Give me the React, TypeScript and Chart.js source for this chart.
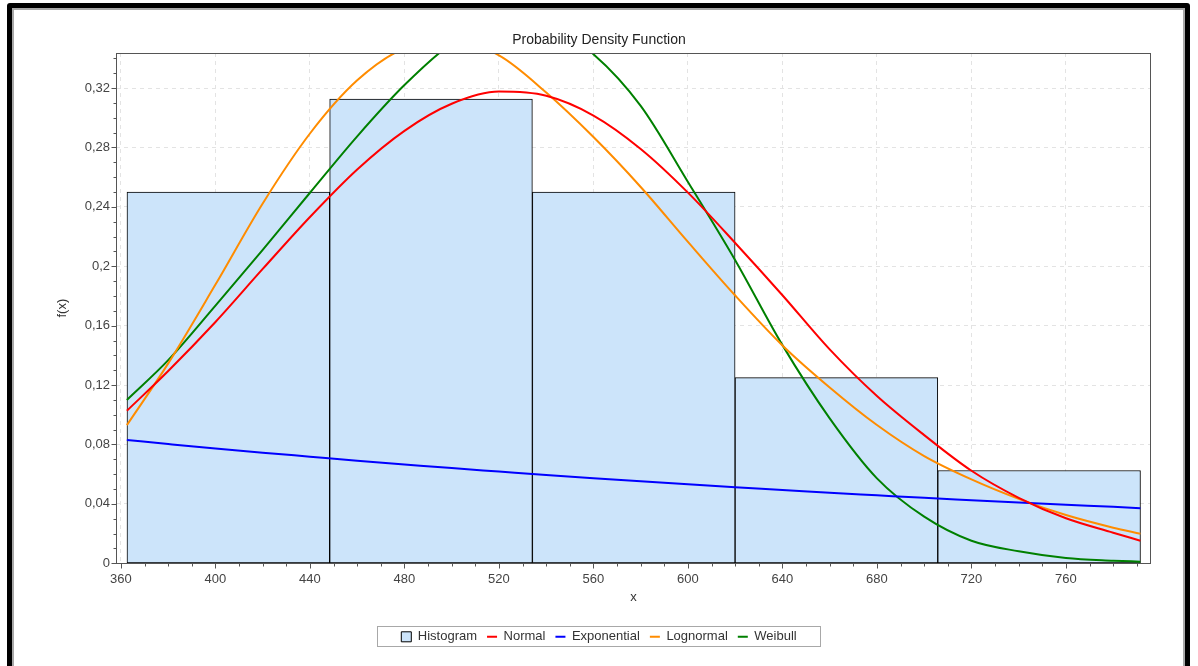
import React, { useEffect, useRef } from 'react';
import { Chart, registerables } from 'chart.js';

Chart.register(...registerables);

// ---- data ----
const xPoints = [362.5, 380, 400, 420, 440, 460, 480, 500, 520, 540, 560, 580, 600, 620, 640, 660, 680, 700, 720, 740, 760, 780, 791.5];
const normalPdf = [0.1027, 0.1295, 0.1625, 0.1982, 0.2332, 0.2652, 0.2912, 0.3094, 0.3176, 0.3148, 0.3015, 0.279, 0.2496, 0.2157, 0.1805, 0.144, 0.1126, 0.0863, 0.0623, 0.0441, 0.0303, 0.0206, 0.0152];
const exponentialPdf = [0.083, 0.0803, 0.0773, 0.0745, 0.0718, 0.0691, 0.0666, 0.0641, 0.0618, 0.0595, 0.0573, 0.0552, 0.0532, 0.0512, 0.0494, 0.0475, 0.0458, 0.0441, 0.0425, 0.0409, 0.0394, 0.038, 0.0371];
const lognormalPdf = [0.093, 0.1346, 0.1877, 0.2423, 0.2894, 0.3252, 0.3468, 0.352, 0.342, 0.317, 0.287, 0.2534, 0.2164, 0.1803, 0.1467, 0.1184, 0.0931, 0.0722, 0.0565, 0.0434, 0.0325, 0.024, 0.0199];
const weibullPdf = [0.110, 0.1368, 0.1735, 0.211, 0.2495, 0.2875, 0.322, 0.350, 0.3655, 0.3635, 0.3428, 0.308, 0.2568, 0.2041, 0.1469, 0.0976, 0.0572, 0.0314, 0.0152, 0.0081, 0.0036, 0.0018, 0.0011];

const binEdges = [362.55, 448.35, 534.15, 619.95, 705.75, 791.55];
const binCenters = [405.45, 491.25, 577.05, 662.85, 748.65];
const binHeights = [0.25, 0.3125, 0.25, 0.125, 0.0625];

const xMajorTicks = [360, 400, 440, 480, 520, 560, 600, 640, 680, 720, 760];
const xTickLabels = ['360', '400', '440', '480', '520', '560', '600', '640', '680', '720', '760'];
const yMajorTicks = [0, 0.04, 0.08, 0.12, 0.16, 0.2, 0.24, 0.28, 0.32];
const yTickLabels = ['0', '0,04', '0,08', '0,12', '0,16', '0,2', '0,24', '0,28', '0,32'];

const seriesNames = ['Histogram', 'Normal', 'Exponential', 'Lognormal', 'Weibull'];
const seriesColors = ['#cce4fa', '#ff0000', '#0000ff', '#ff8c00', '#008000'];

const X_MIN = 357.9;
const X_MAX = 796;
const Y_MAX = 0.3436;

const FONT = '"Liberation Sans", Arial, Helvetica, sans-serif';

function majorIndex(v: number, majors: number[]) {
  for (let i = 0; i < majors.length; i++) if (Math.abs(majors[i] - v) < 1e-9) return i;
  return -1;
}

export default function App() {
  const ref = useRef<HTMLCanvasElement>(null);

  useEffect(() => {
    document.body.style.margin = '0';
    const canvas = ref.current!;
    const xAll: number[] = [];
    for (let v = 360; v <= 790; v += 10) xAll.push(v);
    const yAll: number[] = [];
    for (let k = 0; k <= 34; k++) yAll.push(k / 100);

    const toPts = (ys: number[]) => xPoints.map((x, i) => ({ x, y: ys[i] }));
    const lineDs = (idx: number, data: number[]) => ({
      type: 'line' as const,
      label: seriesNames[idx],
      data: toPts(data),
      borderColor: seriesColors[idx],
      backgroundColor: seriesColors[idx],
      pointBorderColor: seriesColors[idx],
      pointBorderWidth: 2,
      borderWidth: 2,
      pointRadius: 0,
      pointHoverRadius: 0,
      pointStyle: 'line',
      cubicInterpolationMode: 'monotone' as const,
      fill: false,
      order: 0,
      xAxisID: 'x',
      yAxisID: 'y',
    });

    const decorPlugin = {
      id: 'decor',
      afterDraw(chart: any) {
        const { ctx, chartArea: a } = chart;
        ctx.save();
        ctx.strokeStyle = '#555';
        ctx.lineWidth = 1;
        const L = Math.round(a.left) + 0.5;
        const R = Math.round(a.right) - 0.5;
        const T = Math.round(a.top) + 0.5;
        const B = Math.round(a.bottom) + 0.5;
        ctx.strokeRect(L, T, R - L, B - T);
        ctx.beginPath();
        const xs = chart.scales.x;
        xAll.forEach((v) => {
          const p = Math.round(xs.getPixelForValue(v)) + 0.5;
          const len = majorIndex(v, xMajorTicks) >= 0 ? 5 : 3;
          ctx.moveTo(p, B);
          ctx.lineTo(p, B + len);
        });
        const ys = chart.scales.y;
        yAll.forEach((v) => {
          const p = Math.round(ys.getPixelForValue(v)) + 0.5;
          const len = majorIndex(v, yMajorTicks) >= 0 ? 5 : 3;
          ctx.moveTo(L, p);
          ctx.lineTo(L - len, p);
        });
        ctx.stroke();
        // legend frame
        const lg = chart.legend;
        if (lg && lg.legendHitBoxes && lg.legendHitBoxes.length) {
          const hb = lg.legendHitBoxes;
          let minL = Infinity, maxR = -Infinity, top = Infinity, h = 0;
          hb.forEach((b: any) => {
            minL = Math.min(minL, b.left);
            maxR = Math.max(maxR, b.left + b.width);
            top = Math.min(top, b.top);
            h = Math.max(h, b.height);
          });
          const cx = (minL + maxR) / 2;
          const w = maxR - minL + 48;
          ctx.strokeStyle = '#a8a8a8';
          ctx.strokeRect(Math.round(cx - w / 2) + 0.5, Math.round(top - 4) + 0.5, Math.round(w), Math.round(h + 7));
        }
        ctx.restore();
      },
    };

    const chart = new Chart(canvas, {
      type: 'bar',
      data: {
        datasets: [
          {
            type: 'bar',
            label: seriesNames[0],
            data: binCenters.map((x, i) => ({ x, y: binHeights[i] })),
            backgroundColor: seriesColors[0],
            borderColor: '#000000',
            borderWidth: 1,
            borderSkipped: false,
            barPercentage: 1,
            categoryPercentage: 1,
            grouped: false,
            pointStyle: 'rect',
            order: 1,
            xAxisID: 'xBins',
            yAxisID: 'y',
          } as any,
          lineDs(1, normalPdf),
          lineDs(2, exponentialPdf),
          lineDs(3, lognormalPdf),
          lineDs(4, weibullPdf),
        ] as any,
      },
      options: {
        animation: false,
        responsive: false,
        devicePixelRatio: 1,
        events: [],
        layout: { padding: { left: 47, right: 47, top: 0, bottom: 12.7 } },
        plugins: {
          title: {
            display: true,
            text: 'Probability Density Function',
            color: '#222',
            font: { family: FONT, size: 14, weight: 'normal' },
            padding: { top: 31.6, bottom: 4.6 },
          },
          legend: {
            position: 'bottom',
            labels: {
              usePointStyle: true,
              pointStyleWidth: 10,
              boxWidth: 10,
              boxHeight: 10,
              padding: 10,
              color: '#333',
              font: { family: FONT, size: 13 },
              sort: (a: any, b: any) => a.datasetIndex - b.datasetIndex,
            },
          },
          tooltip: { enabled: false },
        },
        scales: {
          x: {
            type: 'linear',
            position: 'bottom',
            offset: false,
            min: X_MIN,
            max: X_MAX,
            afterBuildTicks: (s: any) => {
              s.ticks = xAll.map((v) => ({ value: v }));
            },
            afterFit: (s: any) => {
              s.height = 57;
            },
            ticks: {
              autoSkip: false,
              maxRotation: 0,
              minRotation: 0,
              padding: 8,
              color: '#444',
              font: { family: FONT, size: 13 },
              callback: (v: any) => {
                const i = majorIndex(Number(v), xMajorTicks);
                return i >= 0 ? xTickLabels[i] : '';
              },
            },
            grid: {
              offset: false,
              drawTicks: false,
              lineWidth: 1,
              color: (c: any) => (c.tick && majorIndex(c.tick.value, xMajorTicks) >= 0 ? '#e3e3e3' : 'rgba(0,0,0,0)'),
            },
            border: { display: false, dash: [4, 4] },
            title: {
              display: true,
              text: 'x',
              color: '#333',
              font: { family: FONT, size: 13 },
              padding: { top: 0, bottom: 15.5 },
            },
          },
          xBins: {
            type: 'linear',
            position: 'bottom',
            display: false,
            offset: false,
            grid: { offset: false },
            min: X_MIN,
            max: X_MAX,
            afterBuildTicks: (s: any) => {
              s.ticks = binEdges.map((v) => ({ value: v }));
            },
          },
          y: {
            type: 'linear',
            position: 'left',
            min: 0,
            max: Y_MAX,
            afterBuildTicks: (s: any) => {
              s.ticks = yAll.map((v) => ({ value: v }));
            },
            afterFit: (s: any) => {
              s.width = 69;
            },
            ticks: {
              autoSkip: false,
              padding: 6,
              color: '#444',
              font: { family: FONT, size: 13 },
              callback: (v: any) => {
                const i = majorIndex(Number(v), yMajorTicks);
                return i >= 0 ? yTickLabels[i] : '';
              },
            },
            grid: {
              drawTicks: false,
              lineWidth: 1,
              color: (c: any) => (c.tick && majorIndex(c.tick.value, yMajorTicks) >= 0 ? '#e3e3e3' : 'rgba(0,0,0,0)'),
            },
            border: { display: false, dash: [4, 4] },
            title: {
              display: true,
              text: 'f(x)',
              color: '#333',
              font: { family: FONT, size: 13 },
              padding: { top: 7.2, bottom: 0 },
            },
          },
        } as any,
      },
      plugins: [decorPlugin],
    } as any);

    return () => chart.destroy();
  }, []);

  return (
    <div style={{ position: 'fixed', left: 0, top: 0, width: 1198, height: 666, overflow: 'hidden', background: '#fff' }}>
      <div
        style={{
          position: 'absolute',
          left: 7,
          top: 3,
          width: 1183,
          height: 670,
          boxSizing: 'border-box',
          border: '5px solid #000',
          borderRadius: 3,
        }}
      >
        <div style={{ position: 'absolute', inset: 0, border: '2px solid #a8a8a8' }} />
      </div>
      <canvas ref={ref} width={1198} height={666} style={{ position: 'absolute', left: 0, top: 0, width: 1198, height: 666 }} />
    </div>
  );
}
